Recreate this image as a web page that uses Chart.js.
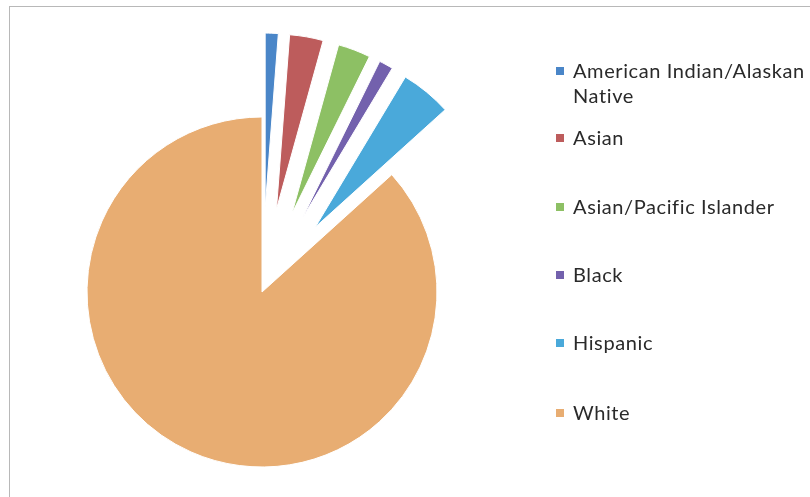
<!DOCTYPE html>
<html>
<head>
<meta charset="utf-8">
<script src="https://cdn.jsdelivr.net/npm/chart.js@4/dist/chart.umd.min.js"></script>
<style>
  body { margin: 0; background: #fff; }
  #wrap { position: relative; width: 810px; height: 497px; overflow: hidden; }
  #frame { position: absolute; left: 9px; top: 6px; width: 900px; height: 600px; border: 1px solid #b8b8b8; }
  #pie { position: absolute; left: 0; top: 0; }
  #legend { position: absolute; left: 0; top: 0; font-family: Lato, "Open Sans", sans-serif; font-size: 20px; letter-spacing: 0.6px; color: #2a2a2a; }
  .item { position: absolute; left: 556px; width: 254px; line-height: 25px; }
  .item span.box { position: absolute; left: 0; top: 9px; width: 8px; height: 8px; }
  .item span.txt { display: block; margin-left: 17px; }
</style>
</head>
<body>
<div id="wrap">
  <div id="frame"></div>
  <canvas id="pie" width="810" height="497"></canvas>
  <div id="legend"></div>
</div>
<script>
const groups = ['American Indian/Alaskan Native', 'Asian', 'Asian/Pacific Islander', 'Black', 'Hispanic', 'White'];
const shares = [1.2, 3.1, 3.0, 1.3, 4.7, 86.7];
const colors = ['#4a86c8', '#bd5c5c', '#8dc064', '#7361ad', '#4aa9da', '#e8ad72'];
const legendTops = [58, 125, 194, 262, 330, 400];

// slices pulled away from the centre (the big last slice stays put)
const pullOut = 84;

// move the arc centres along their bisector instead of using the built-in
// offset, which also grows the radius and trims the angle of the slice
const explode = {
    id: 'explode',
    afterDatasetUpdate(chart, args) {
        args.meta.data.forEach((arc, i) => {
            if (i === shares.length - 1) return;
            const mid = (arc.startAngle + arc.endAngle) / 2;
            arc.x += Math.cos(mid) * pullOut;
            arc.y += Math.sin(mid) * pullOut;
        });
    }
};

new Chart(document.getElementById('pie').getContext('2d'), {
    type: 'pie',
    data: {
        labels: groups,
        datasets: [{
            data: shares,
            backgroundColor: colors,
            borderColor: '#ffffff',
            borderWidth: 1,
            clip: false
        }]
    },
    options: {
        responsive: false,
        animation: false,
        events: [],
        radius: 175,
        layout: { padding: { left: 0, right: 286, top: 87, bottom: 0 } },
        plugins: {
            legend: { display: false },
            tooltip: { enabled: false }
        }
    },
    plugins: [explode]
});

const legend = document.getElementById('legend');
groups.forEach((name, i) => {
    const div = document.createElement('div');
    div.className = 'item';
    div.style.top = legendTops[i] + 'px';
    div.innerHTML = `<span class="box" style="background:${colors[i]}"></span><span class="txt">${name}</span>`;
    legend.appendChild(div);
});
</script>
</body>
</html>
